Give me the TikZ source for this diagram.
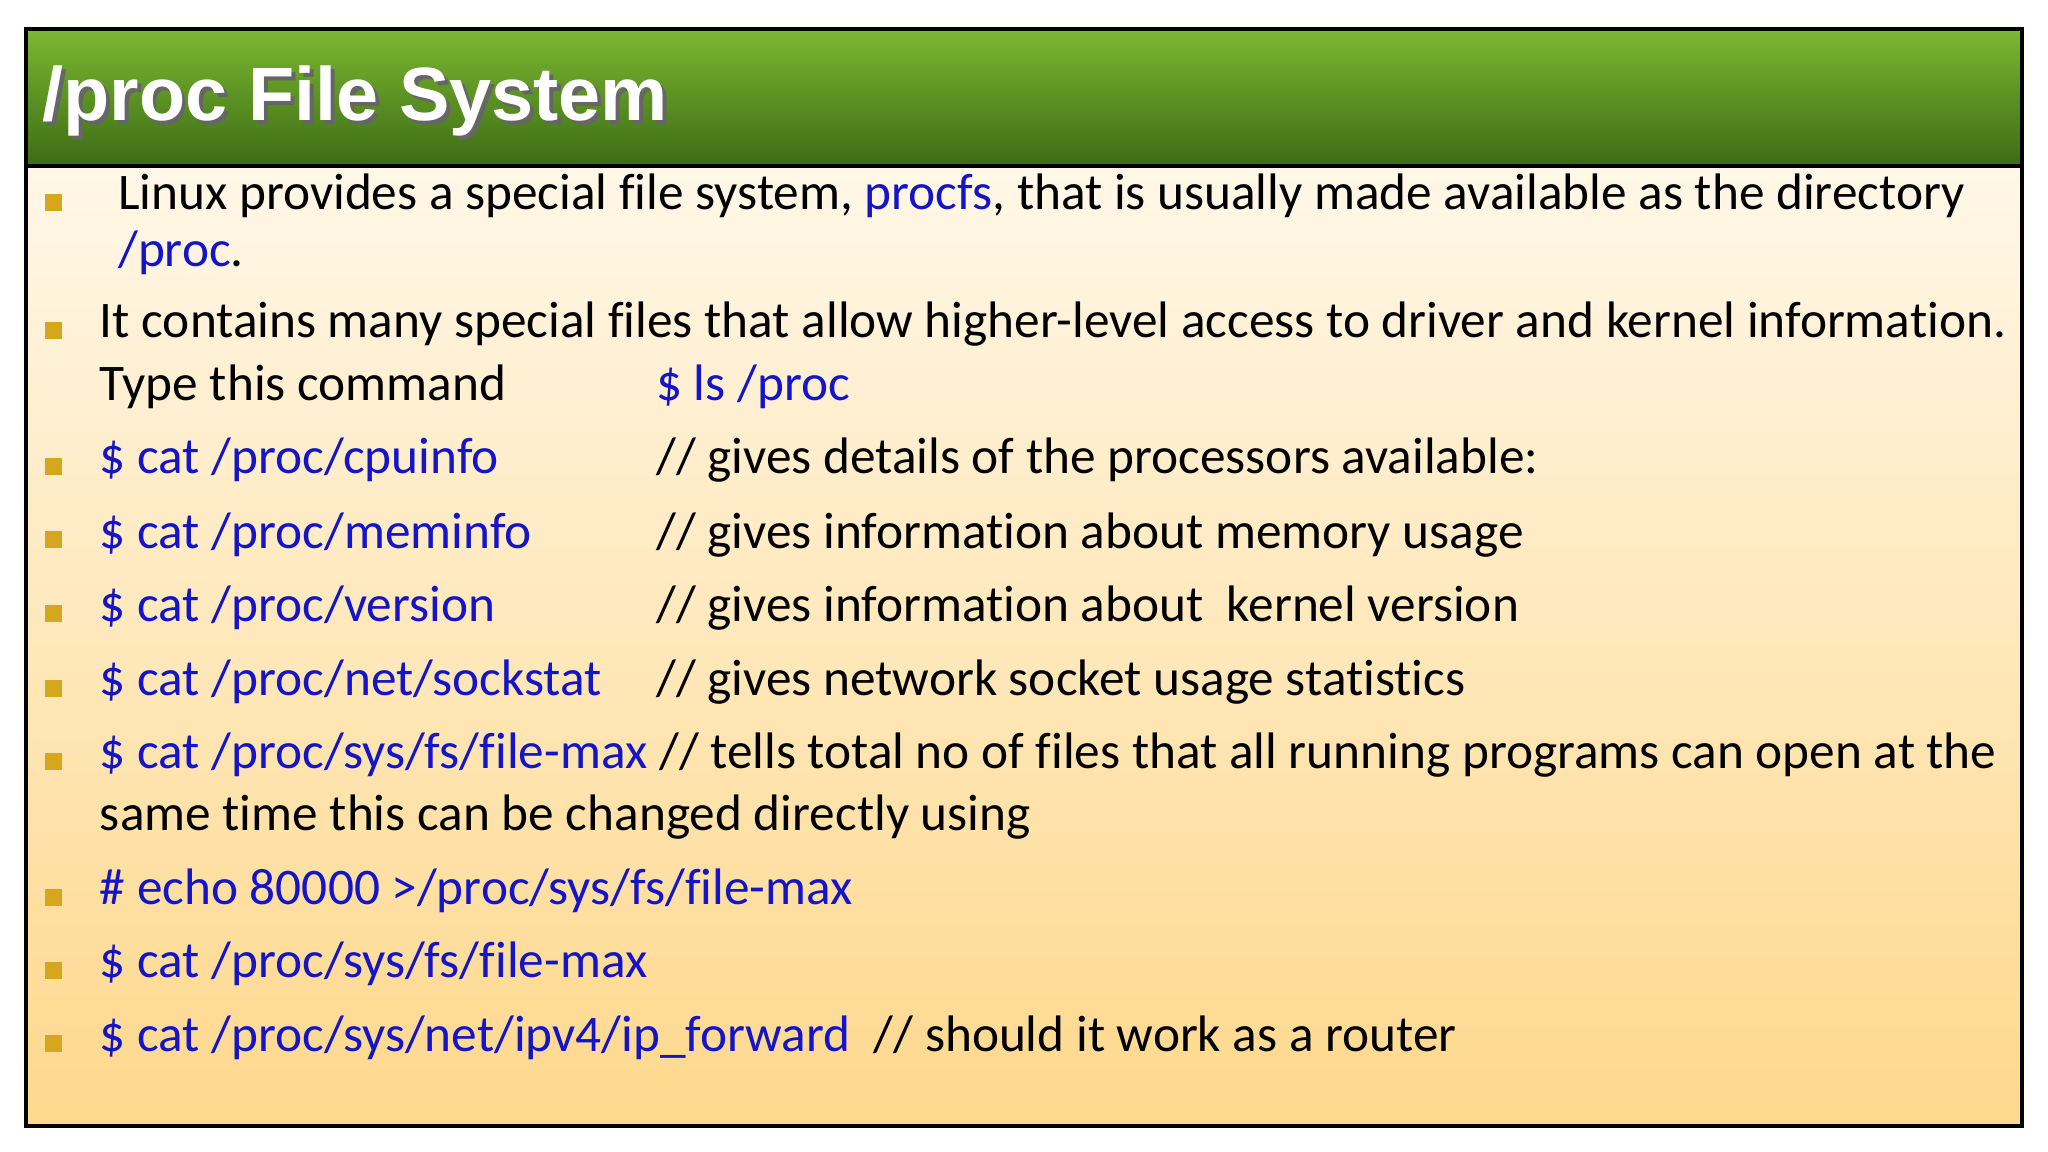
\documentclass[tikz,border=0pt]{standalone}
\usepackage{fontspec}
\setmainfont[Ligatures={NoCommon}]{Carlito}
\newfontfamily\titlefont{Liberation Sans}
\usetikzlibrary{positioning,shadows}
\definecolor{cmdblue}{RGB}{20,20,200}
\definecolor{bulletgold}{RGB}{214,166,30}
\definecolor{bartop}{RGB}{124,184,50}
\definecolor{barbot}{RGB}{60,108,20}
\definecolor{bgtop}{RGB}{255,247,232}
\definecolor{bgbot}{RGB}{254,216,140}
\tikzset{
  txt/.style={anchor=west,inner sep=0pt,font=\fontsize{14.6pt}{16pt}\selectfont,text height=1.6ex,text depth=0.4ex},
  cmd/.style={txt,text=cmdblue},
  bul/.style={fill=bulletgold,minimum size=0.17cm,inner sep=0pt}
}
\begin{document}
\begin{tikzpicture}[x=0.01306cm,y=-0.01306cm]
  \useasboundingbox (0,0) rectangle (1568,882);
  \fill[white] (0,0) rectangle (1568,882);
  % background and title bar
  \shade[top color=bgtop,bottom color=bgbot] (20,127) rectangle (1548,862);
  \shade[top color=bartop,bottom color=barbot] (20,22) rectangle (1548,127);
  \draw[line width=1.2pt] (20,22) rectangle (1548,862);
  \draw[line width=1.2pt] (20,127) -- (1548,127);
  \node[anchor=west,inner sep=0pt,text=black!60,font=\titlefont\bfseries\fontsize{21.5pt}{24pt}\selectfont] at (35,80) {/proc File System};
  \node (title) [anchor=west,inner sep=0pt,text=white,font=\titlefont\bfseries\fontsize{21.5pt}{24pt}\selectfont] at (32,77) {/proc File System};
  % bullets
  \foreach \y in {155,253,357,413,470,527,583,687,743,799}
    \node[bul] at (41,\y) {};
  % item 1
  \node (l1) [txt] at (90,153) {Linux provides a special file system, \textcolor{cmdblue}{procfs}, that is usually made available as the directory};
  \node (l1b) [cmd] at (90,196) {/proc\textcolor{black}{.}};
  % item 2
  \node (l2) [txt] at (76,251) {It contains many special files that allow higher-level access to driver and kernel information.};
  \node (l2b) [txt] at (76,299) {Type this command};
  \node (ls) [cmd] at (502,299) {\$ ls /proc};
  % commands
  \node (c3) [cmd] at (76,355) {\$ cat /proc/cpuinfo};
  \node (m3) [txt] at (502,355) {// gives details of the processors available:};
  \node (c4) [cmd] at (76,412) {\$ cat /proc/meminfo};
  \node (m4) [txt] at (502,412) {// gives information about memory usage};
  \node (c5) [cmd] at (76,468) {\$ cat /proc/version};
  \node (m5) [txt] at (502,468) {// gives information about\ \ kernel version};
  \node (c6) [cmd] at (76,525) {\$ cat /proc/net/sockstat};
  \node (m6) [txt] at (502,525) {// gives network socket usage statistics};
  \node (c7) [cmd] at (76,581) {\$ cat /proc/sys/fs/file-max \textcolor{black}{// tells total no of files that all running programs can open at the}};
  \node (c7b) [txt] at (76,628) {same time this can be changed directly using};
  \node (c8) [cmd] at (76,685) {\# echo 80000 >/proc/sys/fs/file-max};
  \node (c9) [cmd] at (76,741) {\$ cat /proc/sys/fs/file-max};
  \node (c10) [cmd] at (76,797) {\$ cat /proc/sys/net/ipv4/ip\_forward\ \ \textcolor{black}{// should it work as a router}};
\end{tikzpicture}
\end{document}
